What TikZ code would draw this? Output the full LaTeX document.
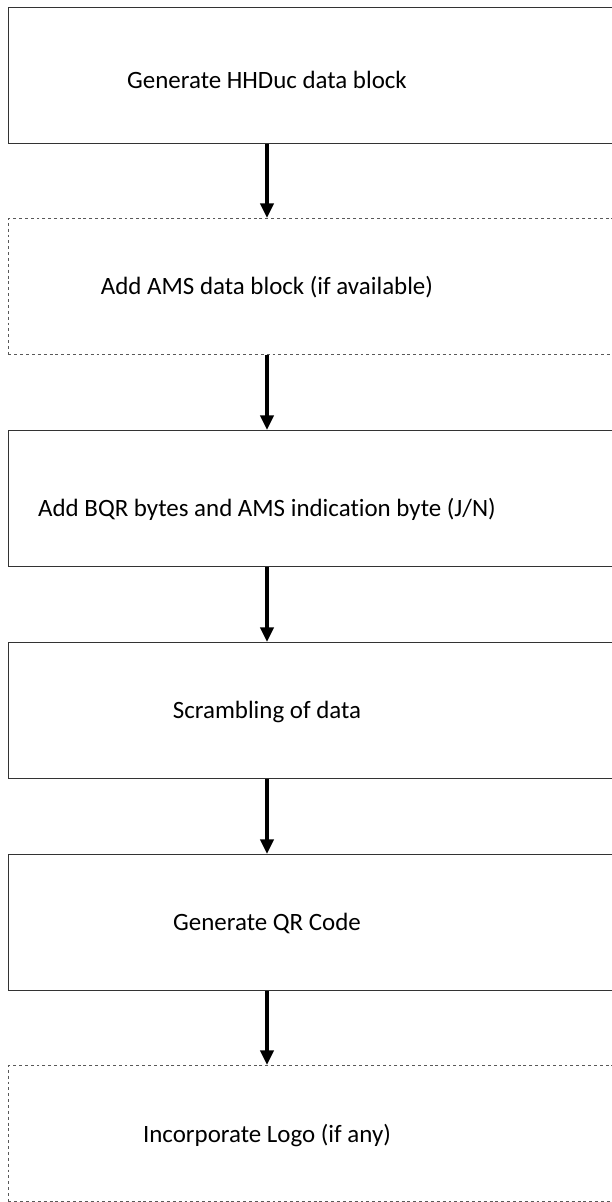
\documentclass[tikz,border=0pt]{standalone}
\usepackage{fontspec}
\setmainfont{Carlito}[Ligatures=CommonOff]
\usetikzlibrary{arrows.meta}
\tikzset{
    stepbox/.style={draw=black!80, line width=0.8pt, rectangle, anchor=north west,
        minimum width=482pt, minimum height=102pt, inner sep=0pt},
    optbox/.style={stepbox, draw=black!65, dash pattern=on 2.2pt off 2.2pt},
    steptext/.style={font=\fontsize{18.7}{22}\selectfont},
    flow/.style={-{Triangle[width=10pt,length=11pt]}, line width=2.5pt, black}
}
\begin{document}
\begin{tikzpicture}[x=0.75pt, y=-0.75pt]
    \useasboundingbox (0,0) rectangle (611,1202);

    % Boxes
    \node[stepbox] (gen)   at (8,7)    {};
    \node[optbox]  (ams)   at (8,218)  {};
    \node[stepbox] (bqr)   at (8,430)  {};
    \node[stepbox] (scr)   at (8,642)  {};
    \node[stepbox] (qr)    at (8,854)  {};
    \node[optbox]  (logo)  at (8,1065) {};

    % Labels
    \node[steptext] (tgen)  at (267,80)   {Generate HHDuc data block};
    \node[steptext] (tams)  at (267,287)  {Add AMS data block (if available)};
    \node[steptext] (tbqr)  at (267,509)  {Add BQR bytes and AMS indication byte (J/N)};
    \node[steptext] (tscr)  at (267,712)  {Scrambling of data};
    \node[steptext] (tqr)   at (267,923)  {Generate QR Code};
    \node[steptext] (tlogo) at (267,1136) {Incorporate Logo (if any)};

    % Flow arrows
    \draw[flow] (gen.south -| tgen) -- (ams.north -| tgen);
    \draw[flow] (ams.south -| tams) -- (bqr.north -| tams);
    \draw[flow] (bqr.south -| tbqr) -- (scr.north -| tbqr);
    \draw[flow] (scr.south -| tscr) -- (qr.north -| tscr);
    \draw[flow] (qr.south -| tqr) -- (logo.north -| tqr);
\end{tikzpicture}
\end{document}
